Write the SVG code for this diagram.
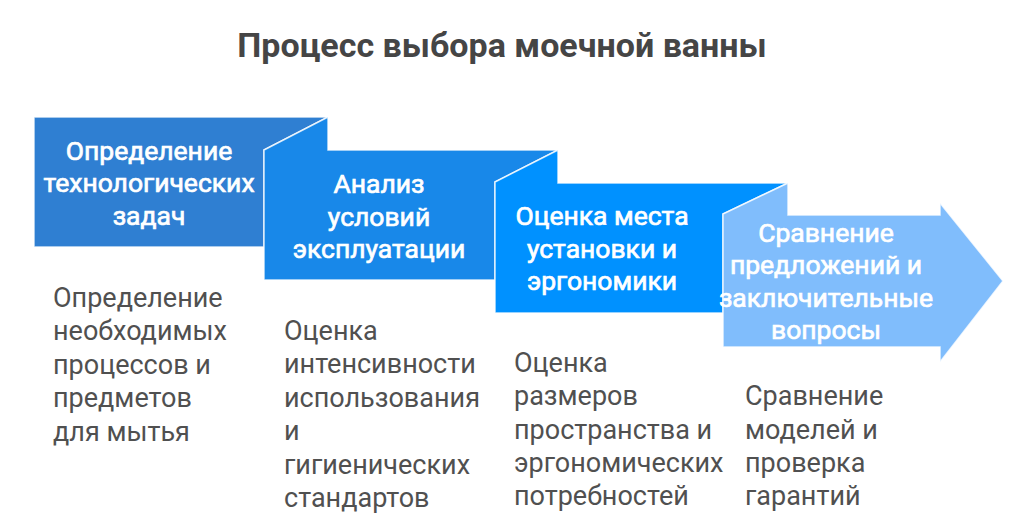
<svg xmlns="http://www.w3.org/2000/svg" width="1024" height="530" viewBox="0 0 1024 530">
<style>
.title{font-family:Roboto,"Liberation Sans",sans-serif;font-weight:700;font-size:34px;fill:#454545;text-anchor:middle}
.lbl{font-family:Roboto,"Liberation Sans",sans-serif;font-weight:400;font-size:26.5px;fill:#ffffff;stroke:#ffffff;stroke-width:0.7;text-anchor:middle}
.desc{font-family:Roboto,"Liberation Sans",sans-serif;font-weight:400;font-size:27px;fill:#505050}
.shape{stroke:#ffffff;stroke-width:1.5;stroke-opacity:0.8;stroke-linejoin:miter}
</style>
<rect width="1024" height="530" fill="#ffffff"/>
<text class="title" x="502" y="57">Процесс выбора моечной ванны</text>
<g id="connectors"></g>
<g id="step1">
<polygon class="shape" fill="#2f7fd2" points="34,117 328,117 264,150 264,247 34,247"/>
<text class="lbl" x="149" y="160">Определение</text>
<text class="lbl" x="149" y="192">технологических</text>
<text class="lbl" x="149" y="225">задач</text>
<text class="desc" x="53" y="307">Определение</text>
<text class="desc" x="53" y="340">необходимых</text>
<text class="desc" x="53" y="374">процессов и</text>
<text class="desc" x="53" y="407">предметов</text>
<text class="desc" x="53" y="441">для мытья</text>
</g>
<g id="step2">
<polygon class="shape" fill="#1888e9" points="264,150 328,117 328,150 558,150 495,182 495,280 264,280"/>
<text class="lbl" x="379" y="193">Анализ</text>
<text class="lbl" x="379" y="226">условий</text>
<text class="lbl" x="379" y="258">эксплуатации</text>
<text class="desc" x="284" y="340">Оценка</text>
<text class="desc" x="284" y="373">интенсивности</text>
<text class="desc" x="284" y="407">использования</text>
<text class="desc" x="284" y="440">и</text>
<text class="desc" x="284" y="474">гигиенических</text>
<text class="desc" x="284" y="507">стандартов</text>
</g>
<g id="step3">
<polygon class="shape" fill="#0091ff" points="495,182 558,150 558,183 788,183 723,214 723,313 495,313"/>
<text class="lbl" x="602" y="225">Оценка места</text>
<text class="lbl" x="602" y="258">установки и</text>
<text class="lbl" x="602" y="290">эргономики</text>
<text class="desc" x="514" y="372">Оценка</text>
<text class="desc" x="514" y="405">размеров</text>
<text class="desc" x="514" y="439">пространства и</text>
<text class="desc" x="514" y="472">эргономических</text>
<text class="desc" x="514" y="505">потребностей</text>
</g>
<g id="step4">
<polygon class="shape" fill="#80bdfc" points="723,214 788,183 788,215 940,215 940,203 1003,281 940,362 940,347 723,347"/>
<text class="lbl" x="826" y="242">Сравнение</text>
<text class="lbl" x="826" y="274">предложений и</text>
<text class="lbl" x="826" y="307">заключительные</text>
<text class="lbl" x="826" y="339">вопросы</text>
<text class="desc" x="745" y="405">Сравнение</text>
<text class="desc" x="745" y="439">моделей и</text>
<text class="desc" x="745" y="472">проверка</text>
<text class="desc" x="745" y="505">гарантий</text>
</g>
</svg>
